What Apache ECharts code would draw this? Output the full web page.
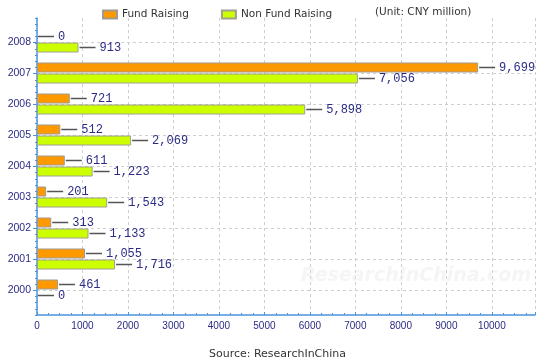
<!DOCTYPE html>
<html>
<head>
<meta charset="utf-8">
<script src="https://cdn.jsdelivr.net/npm/echarts@6/dist/echarts.min.js"></script>
<style>html,body{margin:0;padding:0;background:#fff}#c{width:555px;height:362px}</style>
</head>
<body>
<div id="c"></div>
<script>
const years = ['2000','2001','2002','2003','2004','2005','2006','2007','2008'];
const fundRaising = [461, 1055, 313, 201, 611, 512, 721, 9699, 0];
const nonFundRaising = [0, 1716, 1133, 1543, 1223, 2069, 5898, 7056, 913];
const xTicks = [0,1000,2000,3000,4000,5000,6000,7000,8000,9000,10000];
const seriesNames = ['Fund Raising', 'Non Fund Raising'];

const AXIS_BLUE = '#4b93dc';
const NAVY = '#2b2b86';
const XMAX = 10950;

function fmt(v){ return v.toLocaleString('en-US'); }
function toData(arr){
  return arr.map(v => v === 0 ? {value: v, itemStyle: {borderWidth: 0}} : v);
}
const labelCfg = {
  show: true,
  position: 'right',
  distance: 1,
  formatter: p => '{ln|}{v|' + fmt(p.value) + '}',
  rich: {
    ln: {width: 16, height: 1.5, backgroundColor: '#555'},
    v: {color: NAVY, fontFamily: 'Liberation Mono', fontSize: 12, padding: [0,0,0,4]}
  }
};

const chart = echarts.init(document.getElementById('c'), null, {renderer: 'canvas'});
chart.setOption({
  animation: false,
  backgroundColor: '#fff',
  title: [{
    text: '(Unit: CNY million)', left: 370, top: 2,
    textStyle: {fontFamily: 'DejaVu Sans', fontSize: 10.5, fontWeight: 'normal', color: '#333'}
  }, {
    text: 'Source: ResearchInChina', left: 'center', top: 344,
    textStyle: {fontFamily: 'DejaVu Sans', fontSize: 11, fontWeight: 'normal', color: '#333'}
  }, {
    text: 'ResearchInChina.com', left: 296, top: 262,
    textStyle: {fontFamily: 'DejaVu Sans', fontSize: 19, fontStyle: 'italic', fontWeight: 'bold', color: 'rgba(230,230,230,0.4)'}
  }],
  legend: {
    data: seriesNames,
    icon: 'rect',
    left: 97, top: 4,
    itemWidth: 14, itemHeight: 8, itemGap: 32,
    textStyle: {fontFamily: 'DejaVu Sans', fontSize: 10.5, color: '#333'}
  },
  grid: [
    {left: 37, right: 20, top: 42, bottom: 72},
    {left: 37, right: 20, top: 18, bottom: 47}
  ],
  xAxis: [{
    gridIndex: 0, type: 'value', min: 0, max: XMAX, show: false
  }, {
    gridIndex: 1, type: 'value', min: 0, max: XMAX, interval: 1000,
    axisLine: {show: true, lineStyle: {color: AXIS_BLUE, width: 1.5}},
    axisTick: {show: true, inside: true, length: 3, lineStyle: {color: AXIS_BLUE}},
    minorTick: {show: true, splitNumber: 4, length: 2, lineStyle: {color: AXIS_BLUE}},
    axisLabel: {
      color: NAVY, fontFamily: 'Liberation Sans', fontSize: 10, margin: 6,
      showMaxLabel: false,
      formatter: v => xTicks.indexOf(v) >= 0 ? String(v) : ''
    },
    splitLine: {show: true, lineStyle: {color: '#cfcfcf', type: [3, 3]}}
  }],
  yAxis: [{
    gridIndex: 0, type: 'category', data: years, boundaryGap: false,
    axisLine: {show: false},
    axisTick: {show: true, length: 4, lineStyle: {color: AXIS_BLUE}},
    axisLabel: {color: NAVY, fontFamily: 'Liberation Sans', fontSize: 10.5, margin: 6},
    splitLine: {show: true, lineStyle: {color: '#cfcfcf', type: [3, 3]}}
  }, {
    gridIndex: 1, type: 'value', min: 0, max: 48, interval: 1,
    axisLine: {show: true, lineStyle: {color: AXIS_BLUE, width: 1.5}},
    axisTick: {show: true, length: 2, lineStyle: {color: AXIS_BLUE}},
    axisLabel: {show: false},
    splitLine: {show: false}
  }],
  series: [{
    name: seriesNames[0], type: 'bar', xAxisIndex: 0, yAxisIndex: 0,
    data: toData(fundRaising), barWidth: 10, barGap: '10%',
    itemStyle: {color: '#ff9900', borderColor: '#a09a90', borderWidth: 1},
    label: labelCfg
  }, {
    name: seriesNames[1], type: 'bar', xAxisIndex: 0, yAxisIndex: 0,
    data: toData(nonFundRaising), barWidth: 10, barGap: '10%',
    itemStyle: {color: '#ccff00', borderColor: '#a0a090', borderWidth: 1},
    label: labelCfg
  }]
});
</script>
</body>
</html>
